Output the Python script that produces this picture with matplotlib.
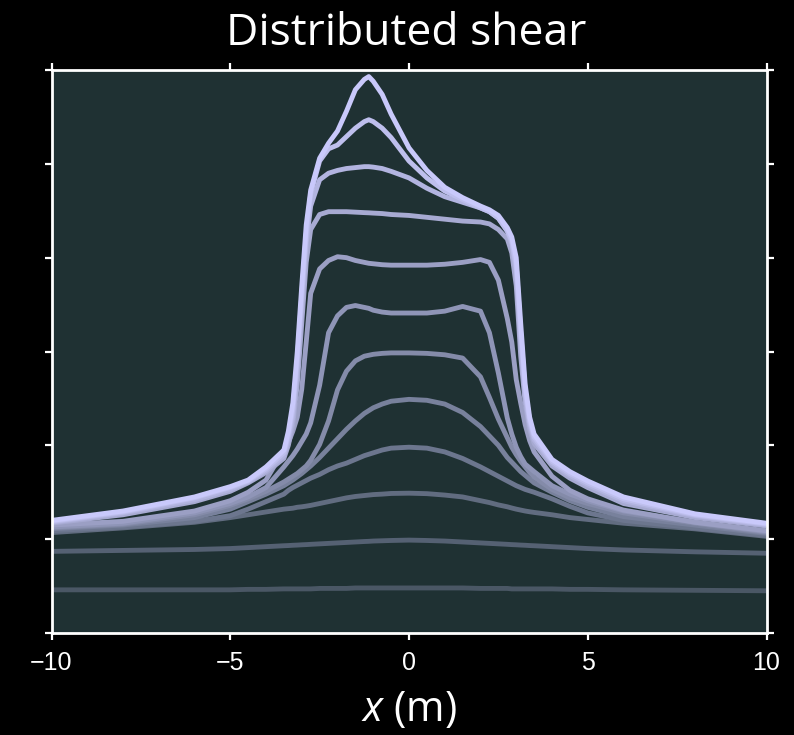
import numpy as np
import matplotlib
matplotlib.use("Agg")
import matplotlib.pyplot as plt
from matplotlib.colors import LinearSegmentedColormap

# Sample positions along the profile (m); denser where the flanks are steep
x = [-10, -8, -6, -5, -4.5, -4, -3.5, -3.375, -3.25, -3.125, -3, -2.875, -2.75,
     -2.5, -2.25, -2, -1.75, -1.5, -1.25, -1.125, -1, -0.75, -0.5, 0,
     0.5, 1, 1.5, 2, 2.25, 2.5, 2.75, 2.875, 3, 3.125, 3.25, 3.375, 3.5,
     4, 4.5, 5, 6, 8, 10]

# Profiles, from the earliest (bottom) to the latest (top)
p01 = [0.46, 0.46, 0.46, 0.46, 0.465, 0.465, 0.47, 0.47, 0.47, 0.47, 0.47, 0.47, 0.47,
       0.475, 0.475, 0.475, 0.475, 0.48, 0.48, 0.48, 0.48, 0.48, 0.48, 0.48,
       0.48, 0.48, 0.48, 0.475, 0.475, 0.475, 0.475, 0.47, 0.47, 0.47, 0.47, 0.47, 0.47,
       0.47, 0.465, 0.465, 0.46, 0.455, 0.45]
p02 = [0.87, 0.88, 0.89, 0.90, 0.91, 0.92, 0.93, 0.932, 0.935, 0.937, 0.94, 0.942, 0.945,
       0.95, 0.955, 0.96, 0.965, 0.97, 0.975, 0.977, 0.98, 0.983, 0.986, 0.99,
       0.986, 0.98, 0.97, 0.96, 0.955, 0.95, 0.945, 0.942, 0.94, 0.937, 0.935, 0.932, 0.93,
       0.92, 0.91, 0.90, 0.885, 0.865, 0.85]
p03 = [1.07, 1.12, 1.18, 1.23, 1.26, 1.29, 1.32, 1.325, 1.33, 1.34, 1.345, 1.352, 1.36,
       1.38, 1.40, 1.42, 1.44, 1.455, 1.465, 1.47, 1.475, 1.48, 1.487, 1.49,
       1.485, 1.47, 1.45, 1.41, 1.39, 1.365, 1.345, 1.332, 1.32, 1.31, 1.30, 1.292, 1.285,
       1.26, 1.23, 1.21, 1.17, 1.11, 1.03]
p04 = [1.09, 1.13, 1.19, 1.25, 1.32, 1.40, 1.48, 1.52, 1.55, 1.575, 1.60, 1.625, 1.65,
       1.69, 1.74, 1.78, 1.81, 1.85, 1.89, 1.905, 1.92, 1.95, 1.97, 1.98,
       1.97, 1.93, 1.86, 1.77, 1.72, 1.67, 1.62, 1.595, 1.57, 1.55, 1.53, 1.515, 1.50,
       1.43, 1.35, 1.28, 1.20, 1.12, 1.04]
p05 = [1.11, 1.15, 1.23, 1.32, 1.40, 1.48, 1.57, 1.60, 1.63, 1.665, 1.70, 1.74, 1.78,
       1.87, 1.97, 2.07, 2.17, 2.26, 2.34, 2.37, 2.40, 2.44, 2.47, 2.49,
       2.48, 2.44, 2.35, 2.20, 2.10, 2.00, 1.87, 1.82, 1.77, 1.72, 1.68, 1.64, 1.60,
       1.50, 1.41, 1.34, 1.24, 1.15, 1.06]
p06 = [1.12, 1.16, 1.26, 1.36, 1.43, 1.51, 1.61, 1.64, 1.67, 1.70, 1.74, 1.78, 1.84,
       2.01, 2.26, 2.59, 2.79, 2.90, 2.95, 2.96, 2.97, 2.98, 2.985, 2.985,
       2.98, 2.965, 2.93, 2.73, 2.51, 2.28, 2.08, 1.98, 1.90, 1.83, 1.77, 1.71, 1.66,
       1.53, 1.44, 1.38, 1.28, 1.17, 1.07]
p07 = [1.13, 1.17, 1.28, 1.38, 1.45, 1.55, 1.77, 1.83, 1.89, 1.96, 2.04, 2.12, 2.24,
       2.64, 3.20, 3.38, 3.47, 3.49, 3.47, 3.46, 3.44, 3.42, 3.41, 3.41,
       3.41, 3.43, 3.48, 3.43, 3.20, 2.77, 2.29, 2.12, 1.98, 1.88, 1.80, 1.76, 1.72,
       1.57, 1.48, 1.41, 1.30, 1.18, 1.08]
p08 = [1.15, 1.19, 1.30, 1.41, 1.50, 1.63, 1.95, 2.03, 2.15, 2.30, 2.60, 3.10, 3.62,
       3.88, 3.97, 4.01, 4.00, 3.97, 3.95, 3.94, 3.935, 3.925, 3.92, 3.92,
       3.92, 3.93, 3.95, 3.98, 3.95, 3.76, 3.35, 3.10, 2.70, 2.45, 2.22, 2.05, 1.93,
       1.67, 1.52, 1.43, 1.31, 1.18, 1.09]
p09 = [1.17, 1.26, 1.40, 1.51, 1.60, 1.71, 1.86, 2.00, 2.22, 2.65, 3.30, 3.95, 4.30,
       4.46, 4.49, 4.49, 4.49, 4.485, 4.48, 4.478, 4.475, 4.47, 4.46, 4.45,
       4.43, 4.41, 4.39, 4.38, 4.36, 4.30, 4.20, 4.05, 3.70, 2.95, 2.45, 2.17, 2.02,
       1.78, 1.65, 1.55, 1.38, 1.23, 1.14]
p10 = [1.18, 1.28, 1.42, 1.53, 1.61, 1.73, 1.89, 2.05, 2.30, 2.80, 3.50, 4.15, 4.55,
       4.83, 4.90, 4.93, 4.95, 4.96, 4.97, 4.97, 4.965, 4.95, 4.92, 4.85,
       4.74, 4.65, 4.59, 4.53, 4.49, 4.42, 4.28, 4.15, 3.85, 3.10, 2.52, 2.22, 2.06,
       1.81, 1.68, 1.58, 1.41, 1.25, 1.15]
p11 = [1.19, 1.29, 1.44, 1.55, 1.62, 1.75, 1.92, 2.10, 2.38, 2.90, 3.60, 4.25, 4.68,
       5.03, 5.16, 5.20, 5.29, 5.38, 5.45, 5.47, 5.45, 5.38, 5.28, 5.03,
       4.85, 4.71, 4.62, 4.53, 4.49, 4.42, 4.29, 4.18, 3.92, 3.20, 2.58, 2.26, 2.09,
       1.83, 1.70, 1.60, 1.43, 1.26, 1.16]
p12 = [1.20, 1.30, 1.45, 1.56, 1.63, 1.77, 1.95, 2.15, 2.45, 3.00, 3.70, 4.35, 4.72,
       5.06, 5.22, 5.35, 5.56, 5.79, 5.90, 5.93, 5.88, 5.74, 5.53, 5.17,
       4.93, 4.75, 4.64, 4.55, 4.51, 4.45, 4.32, 4.22, 4.00, 3.30, 2.65, 2.30, 2.12,
       1.85, 1.72, 1.62, 1.45, 1.27, 1.17]

profiles = [p01, p02, p03, p04, p05, p06, p07, p08, p09, p10, p11, p12]

plt.rcParams["mathtext.fontset"] = "custom"
plt.rcParams["mathtext.it"] = "Open Sans:italic"
plt.rcParams["mathtext.rm"] = "Open Sans"

shade = LinearSegmentedColormap.from_list("shade", ["#4a5765", "#c9c9fb"])

W, H = 794, 735
fig = plt.figure(figsize=(W / 100, H / 100), dpi=100, facecolor="black")
ax = fig.add_axes([51.5 / W, 1 - 633 / H, 715 / W, 563 / H])
ax.set_facecolor("#1f3133")

for i, p in enumerate(profiles):
    ax.plot(x, p, color=shade(i / (len(profiles) - 1)), lw=3.5,
            solid_capstyle="butt", solid_joinstyle="round")

ax.set_xlim(-10, 10)
ax.set_ylim(0, 6)
ax.set_xticks([-10, -5, 0, 5, 10])
ax.set_yticks(range(7))
ax.set_yticklabels([])
ax.tick_params(direction="out", length=5, width=1.6, colors="white",
               top=True, right=True, labelsize=18, pad=8)
for lab in ax.get_xticklabels():
    lab.set_fontfamily("Liberation Sans")
for s in ax.spines.values():
    s.set_color("white")
    s.set_linewidth(2)

fig.text(406 / W, 1 - 45 / H, "Distributed shear", color="white", fontsize=32,
         family="Open Sans", ha="center", va="baseline")
fig.text(409 / W, 1 - 721 / H, r"$x$ (m)", color="white", fontsize=30,
         family="Open Sans", ha="center", va="baseline")

fig.savefig("out.png", dpi=100, facecolor="black")
